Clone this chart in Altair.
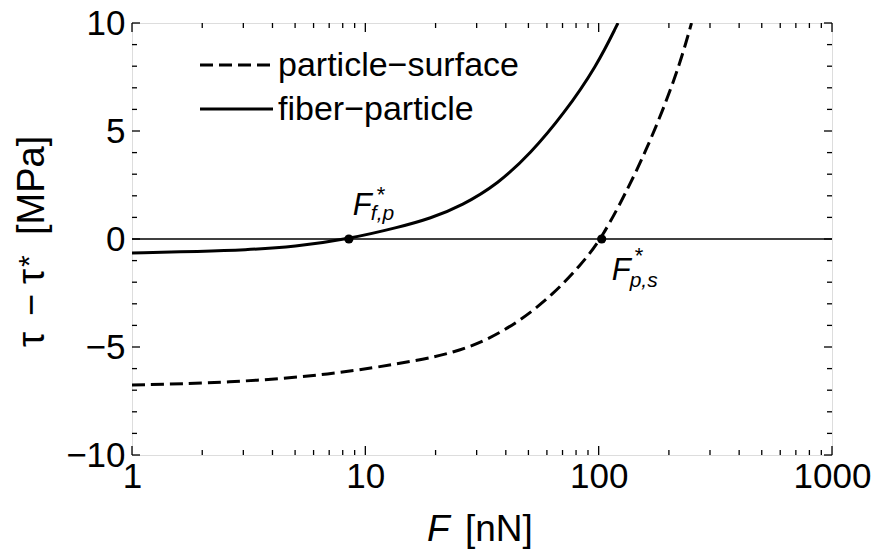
import altair as alt
import pandas as pd

# Shear stress difference tau - tau* [MPa] as a function of load F [nN]
fp_force = [1, 2, 3, 5, 8.5, 14, 19, 26, 37, 51, 71, 98, 121]
fp_stress = [-0.65, -0.57, -0.51, -0.36, 0.0, 0.55, 0.95, 1.55, 2.55, 3.95, 5.8, 8.0, 10.0]

ps_force = [1, 2.6, 7, 17, 24, 33, 46, 64, 83, 103, 136, 161, 189, 223, 250]
ps_stress = [-6.76, -6.65, -6.30, -5.62, -5.25, -4.7, -3.8, -2.55, -1.25, 0.0, 2.5, 4.2, 6.0, 8.1, 10.0]

# Critical loads where each curve crosses zero
crit_fp = 8.5
crit_ps = 103

x_major = [1, 10, 100, 1000]
x_minor = [2, 3, 4, 5, 6, 7, 8, 9, 20, 30, 40, 50, 60, 70, 80, 90,
           200, 300, 400, 500, 600, 700, 800, 900]
y_major = [-10, -5, 0, 5, 10]
y_minor = [-9, -8, -7, -6, -4, -3, -2, -1, 1, 2, 3, 4, 6, 7, 8, 9]

W, H = 700, 432
FONT = "Liberation Sans"

fp_df = pd.DataFrame({"F": fp_force, "y": fp_stress})
ps_df = pd.DataFrame({"F": ps_force, "y": ps_stress})
fp_pt = pd.DataFrame({"F": [crit_fp], "y": [0.0]})
ps_pt = pd.DataFrame({"F": [crit_ps], "y": [0.0]})

xs = alt.Scale(type="log", domain=[1, 1000], nice=False)
ys = alt.Scale(domain=[-10, 10], nice=False)
x_axis = alt.Axis(values=x_major, format="d", ticks=False, domain=False, grid=False,
                  labelFontSize=35, labelPadding=4, labelFlush=False, labelOverlap=False)
y_axis = alt.Axis(values=y_major, ticks=False, domain=False, grid=False,
                  labelFontSize=35, labelPadding=7, labelOverlap=False)

X = alt.X("F:Q", scale=xs, axis=x_axis, title=None)
Y = alt.Y("y:Q", scale=ys, axis=y_axis, title=None)

solid = alt.Chart(fp_df).mark_line(color="black", strokeWidth=3, interpolate="basis",
                                   clip=True).encode(x=X, y=Y)
dashed = alt.Chart(ps_df).mark_line(color="black", strokeWidth=3, interpolate="basis",
                                    strokeDash=[13, 6], clip=True).encode(x=X, y=Y)
zero = alt.Chart(pd.DataFrame({"y": [0.0]})).mark_rule(color="black", strokeWidth=1.6).encode(y=Y)

dots = alt.Chart(pd.concat([fp_pt, ps_pt])).mark_circle(color="black", size=85, opacity=1).encode(x=X, y=Y)


def label(df, text, dx, dy, size, italic=True):
    return alt.Chart(df).mark_text(text=text, dx=dx, dy=dy, align="left", baseline="alphabetic",
                                   font=FONT, fontSize=size,
                                   fontStyle="italic" if italic else "normal",
                                   color="black").encode(x=X, y=Y)


ann = [
    label(fp_pt, "F", 4, -24, 31),
    label(fp_pt, "*", 28, -37, 22, italic=False),
    label(fp_pt, "f,p", 22, -19, 21),
    label(ps_pt, "F", 10, 41, 31),
    label(ps_pt, "*", 33, 24, 22, italic=False),
    label(ps_pt, "p,s", 28, 48, 21),
]

# Inward tick marks on all four sides of the frame
def xticks(vals, length):
    d = pd.DataFrame({"F": vals})
    b = alt.Chart(d).mark_rule(color="black", strokeWidth=1.3).encode(
        x=X, y=alt.value(H), y2=alt.value(H - length))
    t = alt.Chart(d).mark_rule(color="black", strokeWidth=1.3).encode(
        x=X, y=alt.value(0), y2=alt.value(length))
    return [b, t]


def yticks(vals, length):
    d = pd.DataFrame({"y": vals})
    l = alt.Chart(d).mark_rule(color="black", strokeWidth=1.3).encode(
        y=Y, x=alt.value(0), x2=alt.value(length))
    r = alt.Chart(d).mark_rule(color="black", strokeWidth=1.3).encode(
        y=Y, x=alt.value(W), x2=alt.value(W - length))
    return [l, r]


ticks = xticks(x_major, 9) + xticks(x_minor, 5) + yticks(y_major, 8) + yticks(y_minor, 5)

# Legend drawn inside the frame
legend_names = ["particle\u2212surface", "fiber\u2212particle"]
leg_rows = [42, 86]
legend = [
    alt.Chart(pd.DataFrame({"k": [0]})).mark_rule(color="black", strokeWidth=3, strokeDash=[13, 6]).encode(
        x=alt.value(68), x2=alt.value(141), y=alt.value(leg_rows[0])),
    alt.Chart(pd.DataFrame({"k": [0]})).mark_rule(color="black", strokeWidth=3).encode(
        x=alt.value(68), x2=alt.value(141), y=alt.value(leg_rows[1])),
]
for name, row in zip(legend_names, leg_rows):
    legend.append(alt.Chart(pd.DataFrame({"k": [0]})).mark_text(
        text=name, align="left", baseline="middle", font=FONT, fontSize=34, color="black").encode(
        x=alt.value(146), y=alt.value(row + 1)))


def free_text(text, x, y, size, italic=False, angle=0):
    kw = dict(text=text, align="left", baseline="alphabetic", font=FONT, fontSize=size,
              fontStyle="italic" if italic else "normal", color="black")
    if angle:
        kw["angle"] = angle
    return alt.Chart(pd.DataFrame({"k": [0]})).mark_text(**kw).encode(
        x=alt.value(x), y=alt.value(y))


# Axis titles; the vertical one is set glyph by glyph, reading upwards
titles = [
    free_text("F", 295, 518, 37, italic=True),
    free_text("[nN]", 333, 518, 37),
    free_text("\u03c4", -88, 324, 38, angle=270),
    free_text("\u2212", -88, 293, 38, angle=270),
    free_text("\u03c4", -88, 261, 38, angle=270),
    free_text("*", -93, 244, 30, angle=270),
    free_text("[MPa]", -88, 212, 38, angle=270),
]

chart = alt.layer(
    zero, dashed, solid, dots, *ticks, *ann, *legend, *titles
).properties(
    width=W, height=H,
    autosize=alt.AutoSizeParams(type="none"),
    padding={"left": 132, "top": 23, "right": 47, "bottom": 97},
).configure_view(
    stroke="black", strokeWidth=2
).configure_axis(
    labelFont=FONT, labelColor="black"
).configure(background="white")

chart.save("out.html", embed_options={"renderer": "svg", "actions": False})
